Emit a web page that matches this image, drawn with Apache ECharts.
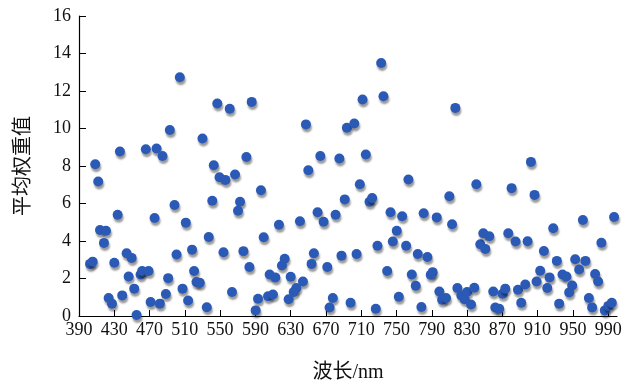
<!DOCTYPE html>
<html>
<head>
<meta charset="utf-8">
<script src="https://cdn.jsdelivr.net/npm/echarts@6/dist/echarts.min.js"></script>
<style>
  html, body { margin: 0; padding: 0; background: #fff; }
  #chart { width: 638px; height: 388px; }
</style>
</head>
<body>
<div id="chart"></div>
<script>
// 波长 (nm)
const wavelength = [
  504.3, 546.8, 493.0, 530.0, 436.4, 465.8, 477.9, 484.7, 408.4, 542.8,
  411.8, 549.3, 541.1, 498.3, 433.8, 475.7, 511.1, 413.8, 420.6, 418.3,
  537.1, 500.6, 518.2, 444.0, 449.7, 402.5, 405.5, 430.0, 446.3, 459.8,
  461.6, 468.9, 491.1, 520.5, 523.2, 527.0, 452.6, 507.4, 423.6, 427.4,
  439.0, 471.2, 481.7, 488.5, 513.7, 534.9, 455.3, 553.8,
  560.9, 585.8, 647.3, 693.7, 702.1, 579.8, 663.6, 685.2, 650.0, 556.0,
  566.9, 596.3, 572.6, 570.3, 691.3, 660.5, 667.3, 680.9, 640.5, 616.7,
  599.4, 576.4, 656.3, 687.6, 623.2, 620.1, 653.7, 583.2, 671.5, 606.2,
  612.6, 630.0, 643.9, 636.4, 633.4, 563.5, 593.0, 604.3, 609.9, 627.7,
  677.8, 674.1, 590.3, 697.9,
  732.6, 735.2, 711.5, 816.7, 715.2, 708.4, 763.5, 840.5, 719.4, 722.4,
  809.9, 743.2, 756.4, 780.8, 795.6, 813.0, 750.3, 745.8, 728.4, 760.9,
  774.1, 785.0, 704.7, 739.4, 767.3, 791.0, 788.8, 771.8, 798.6, 801.7,
  806.2, 819.0, 823.5, 830.0, 827.3, 834.5, 838.2, 752.6, 726.5, 778.2,
  845.0,
  902.4, 880.5, 906.5, 961.3, 996.7, 927.7, 848.4, 855.2, 876.7, 850.7,
  885.0, 898.6, 982.3, 917.1, 931.8, 952.6, 964.2, 957.1, 912.9, 923.5,
  938.2, 942.7, 975.2, 978.6, 908.8, 859.7, 870.3, 873.3, 887.7, 896.0,
  920.9, 949.2, 945.8, 862.0, 866.5, 891.4, 934.4, 968.1, 971.8, 986.2,
  990.2, 994.1
];

// 平均权重值
const weight = [
  12.73, 11.33, 9.92, 9.47, 8.77, 8.89, 8.93, 8.53, 8.09, 8.04,
  7.17, 7.40, 6.15, 5.92, 5.40, 5.23, 4.98, 4.59, 4.55, 3.90,
  4.21, 3.28, 3.54, 3.35, 3.10, 2.78, 2.90, 2.84, 2.11, 2.21,
  2.40, 2.40, 2.02, 2.40, 1.81, 1.77, 1.46, 1.46, 0.96, 0.66,
  1.10, 0.75, 0.66, 1.17, 0.83, 0.47, 0.05, 3.40,
  11.05, 11.42, 10.22, 10.04, 10.27, 8.48, 8.53, 8.40, 7.77, 7.26,
  7.55, 6.71, 6.09, 5.61, 6.22, 5.53, 5.03, 5.40, 5.05, 4.87,
  4.20, 3.46, 3.35, 3.22, 3.05, 2.69, 2.78, 2.61, 2.61, 2.21,
  2.06, 2.09, 1.84, 1.49, 1.28, 1.28, 0.92, 1.05, 1.15, 0.89,
  0.96, 0.45, 0.30, 0.71,
  13.49, 11.72, 11.55, 11.10, 8.61, 7.03, 7.28, 7.03, 6.09, 6.29,
  6.39, 5.53, 5.32, 5.48, 5.26, 4.89, 4.55, 3.97, 3.75, 3.75,
  3.31, 3.15, 3.31, 2.40, 2.21, 2.34, 2.20, 1.61, 1.31, 0.87,
  0.96, 1.49, 1.10, 1.28, 0.89, 0.61, 1.51, 1.03, 0.39, 0.48,
  3.83,
  8.22, 6.82, 6.46, 5.12, 5.28, 4.68, 4.41, 4.25, 4.41, 3.58,
  3.97, 3.99, 3.91, 3.47, 2.94, 3.03, 2.94, 2.48, 2.41, 2.06,
  2.21, 2.11, 2.24, 1.84, 1.84, 1.31, 1.19, 1.46, 1.40, 1.68,
  1.49, 1.63, 1.26, 0.45, 0.39, 0.71, 0.66, 0.96, 0.46, 0.30,
  0.54, 0.71
];

const xTicks = [390, 430, 470, 510, 550, 590, 630, 670, 710, 750, 790, 830, 870, 910, 950, 990];

const points = wavelength.map((w, i) => [w, weight[i]]);

const serif = "'Liberation Serif', 'Times New Roman', 'Noto Sans CJK SC', serif";

const chart = echarts.init(document.getElementById("chart"));
chart.setOption({
  animation: false,
  grid: { left: 79, right: 21, top: 16, bottom: 71 },
  xAxis: {
    type: "value",
    min: 390,
    max: 1000,
    name: "波长/nm",
    nameLocation: "middle",
    nameGap: 47,
    nameTextStyle: { fontFamily: serif, fontSize: 20, color: "#111" },
    axisLine: { lineStyle: { color: "#000", width: 1.2 } },
    axisTick: { inside: true, length: 6, lineStyle: { color: "#000" }, customValues: xTicks },
    axisLabel: { customValues: xTicks, margin: 5, fontFamily: serif, fontSize: 18, color: "#111" },
    splitLine: { show: false }
  },
  yAxis: {
    type: "value",
    min: 0,
    max: 16,
    interval: 2,
    name: "平均权重值",
    nameLocation: "middle",
    nameGap: 45,
    nameTextStyle: { fontFamily: serif, fontSize: 20, color: "#111" },
    axisLine: { show: true, lineStyle: { color: "#000", width: 1.2 } },
    axisTick: { show: true, inside: true, length: 7, lineStyle: { color: "#000" } },
    axisLabel: { margin: 8, fontFamily: serif, fontSize: 18, color: "#111" },
    splitLine: { show: false }
  },
  series: [{
    type: "scatter",
    data: points,
    symbolSize: 10,
    itemStyle: {
      color: "#2b5ab6",
      opacity: 1,
      shadowColor: "rgba(0,0,0,0.4)",
      shadowOffsetX: 1,
      shadowOffsetY: 3,
      shadowBlur: 2
    }
  }]
});
</script>
</body>
</html>
